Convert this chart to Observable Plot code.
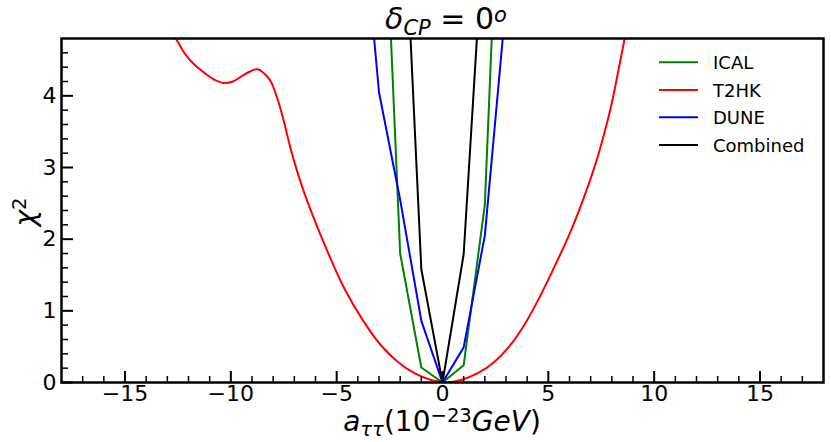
<!DOCTYPE html>
<html>
<head>
<meta charset="utf-8">
<script src="https://cdn.jsdelivr.net/npm/d3@7"></script>
<script src="https://cdn.jsdelivr.net/npm/@observablehq/plot@0.6"></script>
<style>
  html, body { margin: 0; padding: 0; background: #fff; }
  svg { display: block; }
</style>
</head>
<body>
<div id="chart"></div>
<script>
// ---- data ----
const t2hkX = [-13.0, -12.6, -12.2, -11.74, -11.2, -10.8, -10.35, -9.9, -9.5, -9.1, -8.75, -8.45, -8.13, -7.81, -7.5, -7.19, -6.87, -6.56, -6.09, -5.45, -4.6, -3.72, -2.91, -2.12, -1.33, -0.54, 0.17, 0.88, 1.67, 2.46, 3.2, 3.9, 4.62, 5.41, 6.03, 6.59, 7.14, 7.61, 8.0, 8.32, 8.6, 8.9];
const t2hkY = [4.98, 4.80, 4.60, 4.44, 4.31, 4.23, 4.18, 4.20, 4.27, 4.34, 4.37, 4.32, 4.21, 3.97, 3.65, 3.28, 2.95, 2.67, 2.30, 1.84, 1.29, 0.85, 0.52, 0.29, 0.13, 0.035, 0.0, 0.035, 0.13, 0.29, 0.52, 0.82, 1.21, 1.69, 2.09, 2.51, 2.97, 3.44, 3.90, 4.37, 4.79, 5.25];

const icalX = [-3, -2, -1, 0, 1, 2, 3];
const icalY = [8.7, 1.80, 0.21, 0, 0.24, 2.48, 9.6];

const duneX = [-4, -3, -2, -1, 0, 1, 2, 3];
const duneY = [7.3, 4.05, 2.55, 0.86, 0, 0.49, 2.05, 5.3];

const combX = [-2, -1, 0, 1, 2];
const combY = [7.9, 1.58, 0, 1.79, 6.6];

const seriesNames = ["ICAL", "T2HK", "DUNE", "Combined"];
const seriesColors = ["#008000", "#ff0000", "#0000ff", "#000000"];

const xMajor = [-15, -10, -5, 0, 5, 10, 15];
const xMinor = d3.range(-17, 18).filter(v => v % 5 !== 0);
const yMajor = [0, 1, 2, 3, 4];
const yMinor = d3.range(1, 24).map(i => +(i * 0.2).toFixed(1)).filter(v => Math.abs(v - Math.round(v)) > 1e-6);

// ---- layout ----
const W = 831, H = 442;
const mL = 61, mR = 8, mT = 38, mB = 60;
const innerW = W - mL - mR, innerH = H - mT - mB;
const font = "DejaVu Sans";

const toRows = (xs, ys, name) => xs.map((x, i) => ({x, y: ys[i], name}));
const ical = toRows(icalX, icalY, "ICAL");
const t2hk = toRows(t2hkX, t2hkY, "T2HK");
const dune = toRows(duneX, duneY, "DUNE");
const comb = toRows(combX, combY, "Combined");

const chart = Plot.plot({
  width: W, height: H,
  marginLeft: mL, marginRight: mR, marginTop: mT, marginBottom: mB,
  style: {fontFamily: font, color: "black", background: "white", overflow: "visible"},
  x: {domain: [-18, 18]},
  y: {domain: [0, 4.8]},
  marks: [
    Plot.line(t2hk, {x: "x", y: "y", stroke: seriesColors[1], strokeWidth: 2, curve: "catmull-rom", clip: true}),
    Plot.line(ical, {x: "x", y: "y", stroke: seriesColors[0], strokeWidth: 2, clip: true}),
    Plot.line(dune, {x: "x", y: "y", stroke: seriesColors[2], strokeWidth: 2, clip: true}),
    Plot.line(comb, {x: "x", y: "y", stroke: seriesColors[3], strokeWidth: 2, clip: true}),
    Plot.tickX(xMinor, {x: d => d, insetTop: innerH - 6, stroke: "black", strokeWidth: 1.5}),
    Plot.tickX(xMajor, {x: d => d, insetTop: innerH - 11, stroke: "black", strokeWidth: 2}),
    Plot.tickY(yMinor, {y: d => d, insetRight: innerW - 7, stroke: "black", strokeWidth: 1.5}),
    Plot.tickY(yMajor, {y: d => d, insetRight: innerW - 12, stroke: "black", strokeWidth: 2}),
    Plot.axisX({ticks: xMajor, tickSize: 0, tickPadding: 3, fontSize: 22, label: null, tickFormat: d => (d < 0 ? "−" : "") + Math.abs(d)}),
    Plot.axisY({ticks: yMajor, tickSize: 0, tickPadding: 5, fontSize: 22, label: null, tickFormat: d => String(d)}),
    Plot.frame({stroke: "black", strokeWidth: 2.5})
  ]
});
document.getElementById("chart").appendChild(chart);

// ---- rich text (title, axis labels) and legend ----
const svg = d3.select(chart);

const title = svg.append("text")
  .attr("x", (mL + W - mR) / 2 + 4).attr("y", 29)
  .attr("text-anchor", "middle").attr("font-family", font).attr("font-size", 30).attr("fill", "black");
title.append("tspan").attr("font-style", "italic").text("δ");
title.append("tspan").attr("font-style", "italic").attr("font-size", "70%").attr("dy", 6).text("CP");
title.append("tspan").attr("dy", -6).text(" = 0");
title.append("tspan").attr("font-style", "italic").attr("font-size", "70%").attr("dy", -7).text("o");

const xl = svg.append("text")
  .attr("x", (mL + W - mR) / 2).attr("y", 431)
  .attr("text-anchor", "middle").attr("font-family", font).attr("font-size", 28).attr("fill", "black");
xl.append("tspan").attr("font-style", "italic").text("a");
xl.append("tspan").attr("font-style", "italic").attr("font-size", "70%").attr("dy", 5).text("ττ");
xl.append("tspan").attr("dy", -5).text("(10");
xl.append("tspan").attr("font-size", "70%").attr("dy", -9).text("−23");
xl.append("tspan").attr("font-style", "italic").attr("dy", 9).text("GeV");
xl.append("tspan").text(")");

const yl = svg.append("text")
  .attr("transform", `translate(35, ${(mT + H - mB) / 2 + 2}) rotate(-90)`)
  .attr("text-anchor", "middle").attr("font-family", font).attr("font-size", 28).attr("fill", "black");
yl.append("tspan").attr("font-style", "italic").text("χ");
yl.append("tspan").attr("font-size", "70%").attr("dy", -9).text("2");

const legendRowsY = [62.3, 90, 117.3, 145];
const leg = svg.append("g").attr("font-family", font).attr("font-size", 18).attr("text-anchor", "start");
seriesNames.forEach((name, i) => {
  leg.append("line")
    .attr("x1", 659).attr("x2", 698)
    .attr("y1", legendRowsY[i]).attr("y2", legendRowsY[i])
    .attr("stroke", seriesColors[i]).attr("stroke-width", 2);
  leg.append("text")
    .attr("x", 713).attr("y", legendRowsY[i] + 6.5)
    .attr("text-anchor", "start")
    .attr("fill", "black").text(name);
});
</script>
</body>
</html>
